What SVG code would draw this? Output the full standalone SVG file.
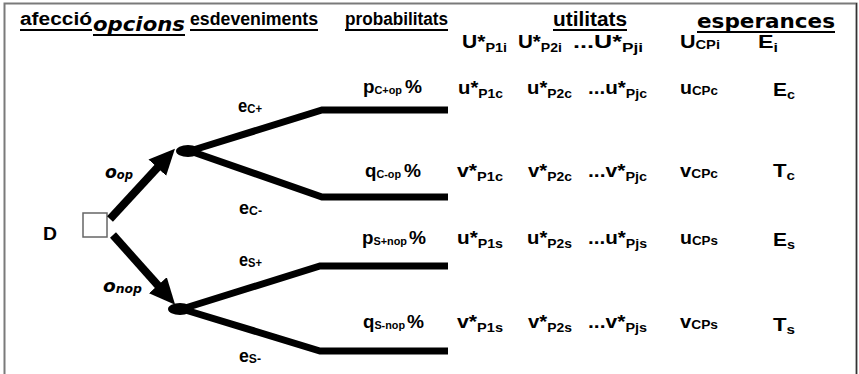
<svg xmlns="http://www.w3.org/2000/svg" width="859" height="374" viewBox="0 0 859 374">
  <style>
    .t { font-family: "Liberation Sans", Arial, sans-serif; font-weight: bold; fill: #000; }
    .h { font-size: 18px; }
    .m { font-size: 19px; }
    .s { font-size: 13px; }
    .ps { font-size: 11px; }
    .v { font-family: "DejaVu Sans", Verdana, sans-serif; font-weight: bold; }
    .ul { stroke: #000; stroke-width: 2; }
    .edge { fill: none; stroke: #000; stroke-width: 7; stroke-linejoin: miter; }
    .arrow { fill: none; stroke: #000; stroke-width: 8; }
  </style>
  <defs>
    <marker id="head" markerUnits="userSpaceOnUse" markerWidth="28" markerHeight="26" viewBox="0 -13 28 26" refX="1" refY="0" orient="auto">
      <path d="M0,-12 L26,0 L0,12 z" fill="#000"/>
    </marker>
  </defs>

  <rect width="859" height="374" fill="#fff"/>
  <!-- frame -->
  <rect x="4.5" y="3.5" width="852" height="380" fill="none" stroke="#7a7a7a" stroke-width="2"/>
  <line x1="856.5" y1="3" x2="856.5" y2="374" stroke="#333" stroke-width="1.2"/>

  <!-- column headers -->
  <g id="headers">
    <text class="t h" x="20" y="25" textLength="72" lengthAdjust="spacingAndGlyphs">afecció</text>
    <line class="ul" x1="20" y1="30" x2="92" y2="30"/>
    <text class="t v" x="93" y="31" font-size="19" font-style="italic" textLength="92" lengthAdjust="spacingAndGlyphs">opcions</text>
    <line class="ul" x1="93" y1="35" x2="185" y2="35"/>
    <text class="t h" x="190" y="25" textLength="128" lengthAdjust="spacingAndGlyphs">esdeveniments</text>
    <line class="ul" x1="190" y1="30" x2="318" y2="30"/>
    <text class="t h" x="345" y="25" textLength="103" lengthAdjust="spacingAndGlyphs">probabilitats</text>
    <line class="ul" x1="345" y1="30" x2="448" y2="30"/>
    <text class="t" x="553" y="26" font-size="20" textLength="74" lengthAdjust="spacingAndGlyphs">utilitats</text>
    <line class="ul" x1="553" y1="30" x2="627" y2="30"/>
    <text class="t v" x="697" y="28" font-size="19" textLength="138" lengthAdjust="spacingAndGlyphs">esperances</text>
    <line class="ul" x1="697" y1="32" x2="835" y2="32"/>
  </g>

  <!-- generic row -->
  <g id="row-i">
    <text class="t m" x="462" y="48" textLength="45" lengthAdjust="spacingAndGlyphs">U*<tspan class="s" dy="4">P1i</tspan></text>
    <text class="t m" x="518" y="48" textLength="44" lengthAdjust="spacingAndGlyphs">U*<tspan class="s" dy="4">P2i</tspan></text>
    <text class="t m" x="573" y="48" textLength="70" lengthAdjust="spacingAndGlyphs">...U*<tspan class="s" dy="4">Pji</tspan></text>
    <text class="t m" x="680" y="48" textLength="40" lengthAdjust="spacingAndGlyphs">U<tspan class="s" dy="1">CPi</tspan></text>
    <text class="t m" x="758" y="48" textLength="20" lengthAdjust="spacingAndGlyphs">E<tspan class="s" dy="4">i</tspan></text>
  </g>

  <!-- decision node -->
  <g id="node-D">
    <text class="t m" x="43" y="240" textLength="14" lengthAdjust="spacingAndGlyphs">D</text>
    <rect x="83" y="213" width="24" height="24" fill="#fff" stroke="#666" stroke-width="1.5"/>
  </g>

  <!-- chance nodes -->
  <g id="node-op">
    <ellipse cx="188" cy="151" rx="12" ry="6" fill="#000"/>
  </g>
  <g id="node-nop">
    <ellipse cx="180" cy="309" rx="12" ry="6" fill="#000"/>
  </g>

  <!-- connectors -->
  <g id="connectors">
    <line class="arrow" x1="110" y1="219" x2="158" y2="167" marker-end="url(#head)"/>
    <line class="arrow" x1="113" y1="235" x2="158.5" y2="286" marker-end="url(#head)"/>
    <polyline class="edge" points="190,151 322,110 448,110"/>
    <polyline class="edge" points="190,151 322,197 448,197"/>
    <polyline class="edge" points="182,309 320,266 448,266"/>
    <polyline class="edge" points="182,309 320,351 448,351"/>
  </g>

  <!-- option labels -->
  <g id="labels-options">
    <text class="t v" x="105" y="178" font-size="18" font-style="italic" textLength="28" lengthAdjust="spacingAndGlyphs">o<tspan font-size="12" dy="1">op</tspan></text>
    <text class="t v" x="103" y="292" font-size="18" font-style="italic" textLength="39" lengthAdjust="spacingAndGlyphs">o<tspan font-size="12" dy="1">nop</tspan></text>
  </g>

  <!-- event labels -->
  <g id="labels-events">
    <text class="t m" x="238" y="112" textLength="24" lengthAdjust="spacingAndGlyphs">e<tspan class="s" dy="1">C+</tspan></text>
    <text class="t m" x="239" y="214" textLength="23" lengthAdjust="spacingAndGlyphs">e<tspan class="s" dy="1">C-</tspan></text>
    <text class="t m" x="239" y="266" textLength="23" lengthAdjust="spacingAndGlyphs">e<tspan class="s" dy="1">S+</tspan></text>
    <text class="t m" x="239" y="362" textLength="22" lengthAdjust="spacingAndGlyphs">e<tspan class="s" dy="1">S-</tspan></text>
  </g>

  <!-- outcome C+ -->
  <g id="leaf-c-plus">
    <text class="t m" x="363" y="93" textLength="39" lengthAdjust="spacingAndGlyphs">p<tspan class="ps" dy="1">C+op</tspan></text>
    <text class="t m" x="405" y="93" textLength="17" lengthAdjust="spacingAndGlyphs">%</text>
    <text class="t m" x="458" y="94" textLength="45" lengthAdjust="spacingAndGlyphs">u*<tspan class="s" dy="4">P1c</tspan></text>
    <text class="t m" x="527" y="94" textLength="45" lengthAdjust="spacingAndGlyphs">u*<tspan class="s" dy="4">P2c</tspan></text>
    <text class="t m" x="588" y="94" textLength="59" lengthAdjust="spacingAndGlyphs">...u*<tspan class="s" dy="4">Pjc</tspan></text>
    <text class="t m" x="680" y="94" textLength="38" lengthAdjust="spacingAndGlyphs">u<tspan class="s" dy="1">CPc</tspan></text>
    <text class="t m" x="773" y="96" textLength="22" lengthAdjust="spacingAndGlyphs">E<tspan class="s" dy="3">c</tspan></text>
  </g>

  <!-- outcome C- -->
  <g id="leaf-c-minus">
    <text class="t m" x="365" y="177" textLength="36" lengthAdjust="spacingAndGlyphs">q<tspan class="ps" dy="1">C-op</tspan></text>
    <text class="t m" x="404" y="177" textLength="17" lengthAdjust="spacingAndGlyphs">%</text>
    <text class="t m" x="457" y="177" textLength="46" lengthAdjust="spacingAndGlyphs">v*<tspan class="s" dy="4">P1c</tspan></text>
    <text class="t m" x="528" y="177" textLength="44" lengthAdjust="spacingAndGlyphs">v*<tspan class="s" dy="4">P2c</tspan></text>
    <text class="t m" x="588" y="177" textLength="59" lengthAdjust="spacingAndGlyphs">...v*<tspan class="s" dy="4">Pjc</tspan></text>
    <text class="t m" x="680" y="177" textLength="38" lengthAdjust="spacingAndGlyphs">v<tspan class="s" dy="1">CPc</tspan></text>
    <text class="t m" x="773" y="177" textLength="22" lengthAdjust="spacingAndGlyphs">T<tspan class="s" dy="3">c</tspan></text>
  </g>

  <!-- outcome S+ -->
  <g id="leaf-s-plus">
    <text class="t m" x="362" y="244" textLength="45" lengthAdjust="spacingAndGlyphs">p<tspan class="ps" dy="1">S+nop</tspan></text>
    <text class="t m" x="409" y="244" textLength="17" lengthAdjust="spacingAndGlyphs">%</text>
    <text class="t m" x="457" y="244" textLength="46" lengthAdjust="spacingAndGlyphs">u*<tspan class="s" dy="4">P1s</tspan></text>
    <text class="t m" x="527" y="244" textLength="45" lengthAdjust="spacingAndGlyphs">u*<tspan class="s" dy="4">P2s</tspan></text>
    <text class="t m" x="588" y="244" textLength="59" lengthAdjust="spacingAndGlyphs">...u*<tspan class="s" dy="4">Pjs</tspan></text>
    <text class="t m" x="680" y="244" textLength="38" lengthAdjust="spacingAndGlyphs">u<tspan class="s" dy="1">CPs</tspan></text>
    <text class="t m" x="773" y="246" textLength="22" lengthAdjust="spacingAndGlyphs">E<tspan class="s" dy="3">s</tspan></text>
  </g>

  <!-- outcome S- -->
  <g id="leaf-s-minus">
    <text class="t m" x="363" y="328" textLength="42" lengthAdjust="spacingAndGlyphs">q<tspan class="ps" dy="1">S-nop</tspan></text>
    <text class="t m" x="407" y="328" textLength="17" lengthAdjust="spacingAndGlyphs">%</text>
    <text class="t m" x="457" y="328" textLength="46" lengthAdjust="spacingAndGlyphs">v*<tspan class="s" dy="4">P1s</tspan></text>
    <text class="t m" x="528" y="328" textLength="44" lengthAdjust="spacingAndGlyphs">v*<tspan class="s" dy="4">P2s</tspan></text>
    <text class="t m" x="588" y="328" textLength="59" lengthAdjust="spacingAndGlyphs">...v*<tspan class="s" dy="4">Pjs</tspan></text>
    <text class="t m" x="680" y="328" textLength="38" lengthAdjust="spacingAndGlyphs">v<tspan class="s" dy="1">CPs</tspan></text>
    <text class="t m" x="773" y="331" textLength="22" lengthAdjust="spacingAndGlyphs">T<tspan class="s" dy="3">s</tspan></text>
  </g>
</svg>
